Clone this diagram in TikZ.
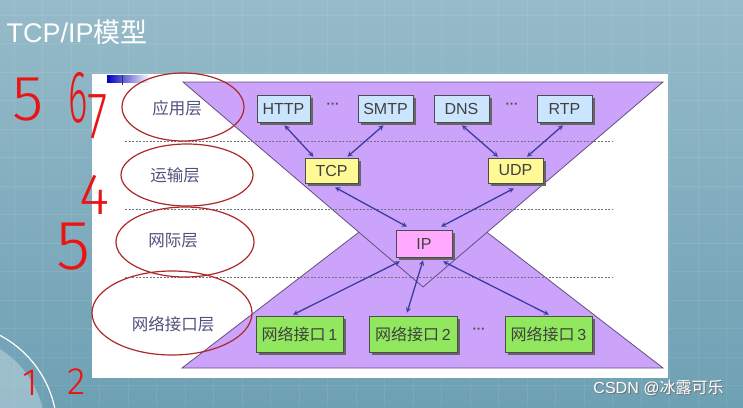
\documentclass[tikz,border=0pt]{standalone}
\usepackage{fontspec}
\setmainfont{Liberation Sans}
\newfontfamily\cjk{Noto Sans CJK SC}
\newfontfamily\hand{Fira Sans Light}
\usetikzlibrary{arrows,shadows,calc}

\definecolor{bgtop}{RGB}{150,187,201}
\definecolor{bgbot}{RGB}{110,160,180}
\definecolor{hourglass}{RGB}{203,163,250}
\definecolor{edgepurple}{RGB}{100,80,125}
\definecolor{appblue}{RGB}{204,229,255}
\definecolor{tpyellow}{RGB}{255,250,150}
\definecolor{ippink}{RGB}{255,170,255}
\definecolor{ifgreen}{RGB}{145,232,95}
\definecolor{arrowblue}{RGB}{60,60,160}
\definecolor{labelgray}{RGB}{80,82,125}
\definecolor{inkred}{RGB}{235,20,20}
\definecolor{ringred}{RGB}{175,40,40}

\begin{document}
\begin{tikzpicture}[x=1pt, y=-1pt,
    layer/.style={font=\cjk\fontsize{16.5}{16.5}\selectfont, text=labelgray},
    proto/.style={draw=black!70, line width=0.6pt, inner sep=0pt,
                  minimum height=27pt, text=black!75,
                  font=\fontsize{16}{16}\selectfont,
                  drop shadow={shadow xshift=2.5pt, shadow yshift=-2.5pt,
                               fill=black!60, opacity=1}},
    dots/.style={text=black!70, font=\bfseries\fontsize{13}{13}\selectfont},
    link/.style={<->, >=stealth, arrowblue, line width=1.3pt},
    sep/.style={black!55, line width=0.6pt, dash pattern=on 2pt off 1.5pt},
    ring/.style={ringred, line width=1.2pt},
    ink/.style={text=inkred, inner sep=0pt, transform shape}
]

% Slide background
\useasboundingbox (0,0) rectangle (743,407);
\shade[top color=bgtop, bottom color=bgbot] (0,0) rectangle (743,407);
\foreach \gx in {14,42.5,...,743}
    \draw[white, opacity=0.08, line width=0.8pt] (\gx,0) -- (\gx,407);
\foreach \gy in {15,43.5,...,407}
    \draw[white, opacity=0.08, line width=0.8pt] (0,\gy) -- (743,\gy);
\begin{scope}
    \clip (0,0) rectangle (743,407);
    \fill[white, opacity=0.3] (-50,430) circle (95pt);
    \draw[white, line width=1.2pt] (-50,430) circle (107pt);
\end{scope}

% Title
\node[anchor=west, text=white, font=\fontsize{27}{27}\selectfont] (title) at (3,32) {TCP/IP{\cjk 模型}};

% Panel
\fill[white] (92,74) rectangle (668,378);
\shade[left color=blue!75!black, right color=white] (107,75) rectangle (150,82);
\draw[black!80, line width=1pt] (122,75) -- (122,85);

% Hourglass
\filldraw[fill=hourglass, draw=edgepurple, line width=0.8pt] (182,368) -- (423,183) -- (663,368) -- cycle;
\filldraw[fill=hourglass, draw=edgepurple, line width=0.8pt] (183,82) -- (663,82) -- (423,287) -- cycle;

% Layer separators
\draw[sep] (125,141) -- (613,141);
\draw[sep] (125,209) -- (613,209);
\draw[sep] (125,277) -- (613,277);

% Layer names
\node[layer] (app)   at (177,108) {应用层};
\node[layer] (trans) at (175,175) {运输层};
\node[layer] (inet)  at (173,241) {网际层};
\node[layer] (netif) at (173,324) {网络接口层};

% Protocols
\node[proto, fill=appblue, minimum width=53pt] (http) at (283.5,108.5) {HTTP};
\node[proto, fill=appblue, minimum width=55pt] (smtp) at (385.5,108.5) {SMTP};
\node[proto, fill=appblue, minimum width=55pt] (dns)  at (461.5,108.5) {DNS};
\node[proto, fill=appblue, minimum width=55pt] (rtp)  at (564.5,108.5) {RTP};
\node[dots] (dotsa) at (333,106) {···};
\node[dots] (dotsb) at (512,106) {···};

\node[proto, fill=tpyellow, minimum width=53pt, minimum height=25pt] (tcp) at (331.5,170.5) {TCP};
\node[proto, fill=tpyellow, minimum width=55pt, minimum height=25pt] (udp) at (515.5,170.5) {UDP};

\node[proto, fill=ippink, minimum width=56pt] (ip) at (424,243.5) {IP};

\node[proto, fill=ifgreen, minimum width=87pt, minimum height=36pt] (ifa) at (299.5,334) {{\cjk 网络接口}\,1};
\node[proto, fill=ifgreen, minimum width=88pt, minimum height=36pt] (ifb) at (413,334)   {{\cjk 网络接口}\,2};
\node[proto, fill=ifgreen, minimum width=87pt, minimum height=36pt] (ifc) at (548.5,334) {{\cjk 网络接口}\,3};
\node[dots] (dotsc) at (479,331) {···};

% Links
\draw[link] ($(http.south)+(1,3)$)    -- ($(tcp.north)+(-18,-1)$);
\draw[link] ($(smtp.south)+(-2,3)$)   -- ($(tcp.north)+(16,-1)$);
\draw[link] ($(dns.south)+(0.5,3)$)   -- ($(udp.north)+(-17.5,-1)$);
\draw[link] ($(rtp.south)+(-1.5,3)$)  -- ($(udp.north)+(11.5,-1)$);
\draw[link] ($(tcp.south)+(3.5,4)$)   -- ($(ip.north)+(-17,-3)$);
\draw[link] ($(udp.south)+(-1.5,5)$)  -- ($(ip.north)+(17,-3)$);
\draw[link] ($(ip.south)+(-24,4)$)    -- ($(ifa.north)+(-6.5,-1)$);
\draw[link] ($(ip.south)+(-1,3)$)     -- ($(ifb.north)+(-6,-3)$);
\draw[link] ($(ip.south)+(19,4)$)     -- ($(ifc.north)+(0.5,-1)$);

% Hand annotations
\draw[ring] (183,107) ellipse [x radius=61pt, y radius=34pt];
\draw[ring] (187,175) ellipse [x radius=66pt, y radius=31pt];
\draw[ring] (185,242) ellipse [x radius=69pt, y radius=35pt];
\draw[ring] (172,313) ellipse [x radius=80pt, y radius=42pt];

\node[ink, font=\hand\fontsize{64}{64}\selectfont] (fivea) at (28,100) {5};
\node[ink, xscale=0.5, font=\hand\fontsize{74}{74}\selectfont] (six) at (78,98) {6};
\node[ink, xscale=0.7, font=\hand\fontsize{66}{66}\selectfont] (seven) at (98,117) {7};
\node[ink, font=\hand\fontsize{58}{58}\selectfont] (four)  at (95,195) {4};
\node[ink, font=\hand\fontsize{70}{70}\selectfont] (fiveb) at (74,247) {5};
\node[ink, font=\hand\fontsize{38}{38}\selectfont] (one)   at (30,383) {1};
\node[ink, font=\hand\fontsize{38}{38}\selectfont] (two)   at (77,382) {2};

% Watermark
\node[text=black!55, font=\fontsize{16}{16}\selectfont] (wmshade) at (659.5,389) {CSDN @{\cjk 冰露可乐}};
\node[text=white, font=\fontsize{16}{16}\selectfont] (wm) at (658.5,388) {CSDN @{\cjk 冰露可乐}};

\end{tikzpicture}
\end{document}
